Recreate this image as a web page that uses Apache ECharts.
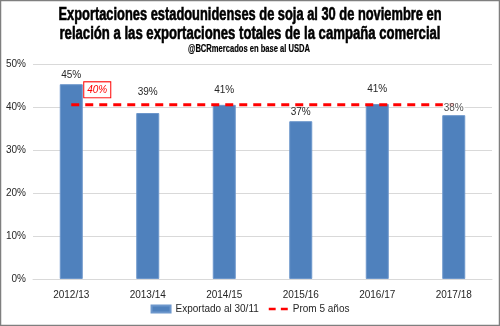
<!DOCTYPE html>
<html><head><meta charset="utf-8">
<script src="https://cdn.jsdelivr.net/npm/echarts@6/dist/echarts.min.js"></script>
<style>html,body{margin:0;padding:0;background:#fff}#c{width:500px;height:326px}</style>
</head><body><div id="c"></div>
<script>
const categories = ['2012/13','2013/14','2014/15','2015/16','2016/17','2017/18'];
const exported = [45.3, 38.6, 40.5, 36.7, 40.7, 38.1];
const exportedLabels = ['45%','39%','41%','37%','41%','38%'];
const average = [40.5, 40.5, 40.5, 40.5, 40.5, 40.5];
const averageLabel = '40%';
const yTicks = [0, 10, 20, 30, 40, 50];
const seriesNames = ['Exportado al 30/11', 'Prom 5 años'];
const titleLines = ['Exportaciones estadounidenses de soja al 30 de noviembre en', 'relación a las exportaciones totales de la campaña comercial'];
const subtitle = '@BCRmercados en base al USDA';

const labelGap = [4, 16, 10, 4, 10, 2];
const font = '"Liberation Sans", Arial, sans-serif';
const fs = 10;
const txt = '#262626';

const cv = document.createElement('canvas').getContext('2d');
function condensed(text, fontStr, targetW, cx, cy, sw) {
  cv.font = fontStr;
  const w = cv.measureText(text).width;
  return {type:'text', x:cx, y:cy, scaleX:targetW / w, silent:true,
    style:{text:text, font:fontStr, fill:'#000', stroke:'#000', lineWidth:sw, align:'center', verticalAlign:'middle'}};
}
const titleFont = 'bold 18px "Liberation Sans", Arial, sans-serif';
const subFont = 'bold 10.5px "Liberation Sans", Arial, sans-serif';

const barLabel = (i) => ({show:true, position:'top', distance:labelGap[i], formatter: exportedLabels[i],
  fontFamily:font, fontSize:fs, color:txt, padding:[0,1]});

const chart = echarts.init(document.getElementById('c'), null, {renderer:'canvas'});
chart.setOption({
  animation:false,
  graphic:[
    {type:'rect', shape:{x:0.5,y:0.5,width:499,height:325}, style:{fill:'none', stroke:'#7f7f7f', lineWidth:1.5}, silent:true},
    condensed(titleLines[0], titleFont, 383, 250, 15, 0.6),
    condensed(titleLines[1], titleFont, 381, 250, 34, 0.6),
    condensed(subtitle, subFont, 122, 249, 49, 0.2)
  ],
  legend:{
    bottom:7, left:'center', itemGap:10, itemWidth:19, itemHeight:7,
    textStyle:{fontFamily:font, fontSize:fs, color:txt},
    data:[{name:seriesNames[0], icon:'rect'},
          {name:seriesNames[1], icon:'path://M0,0H8V3H0Z M14,0H22V3H14Z'}]
  },
  grid:{left:33, right:8, top:64, bottom:47},
  xAxis:{type:'category', data:categories,
    axisLine:{lineStyle:{color:'#d9d9d9'}}, axisTick:{show:false},
    axisLabel:{fontFamily:font, fontSize:fs, color:txt, margin:11}},
  yAxis:{type:'value', min:yTicks[0], max:yTicks[yTicks.length-1], interval:10,
    axisLabel:{fontFamily:font, fontSize:fs, color:txt, formatter: v => v + '%', margin:7},
    splitLine:{lineStyle:{color:'#d9d9d9'}}, axisLine:{show:false}, axisTick:{show:false}},
  series:[
    {name:seriesNames[0], type:'bar', barWidth:23, z:2,
     itemStyle:{color:'#4f81bd', borderColor:'#6d97cc', borderWidth:1},
     data: exported.map((v,i)=>({value:v, label: i===5 ? {show:false} : barLabel(i)}))},
    {name:seriesNames[1], type:'line', symbol:'circle', symbolSize:0, showSymbol:true, z:3,
     lineStyle:{color:'#ff0000', width:3, type:[8,6]}, itemStyle:{color:'#ff0000'},
     data: average.map((v,i)=>({value:v,
       label:{show:i===0, position:'right', offset:[8,-15], formatter: averageLabel, fontFamily:font, fontStyle:'italic',
         fontSize:fs, color:'#ff0000', backgroundColor:'#fff', borderColor:'#ff0000', borderWidth:1, padding:[3,3,2,3]}}))},
    {name:'labels-top', type:'scatter', symbolSize:0, z:5, silent:true,
     data: exported.map((v,i)=> i===5 ? {value:v, label:Object.assign(barLabel(i), {backgroundColor:'#fff'})} : '-')}
  ]
});
</script></body></html>
